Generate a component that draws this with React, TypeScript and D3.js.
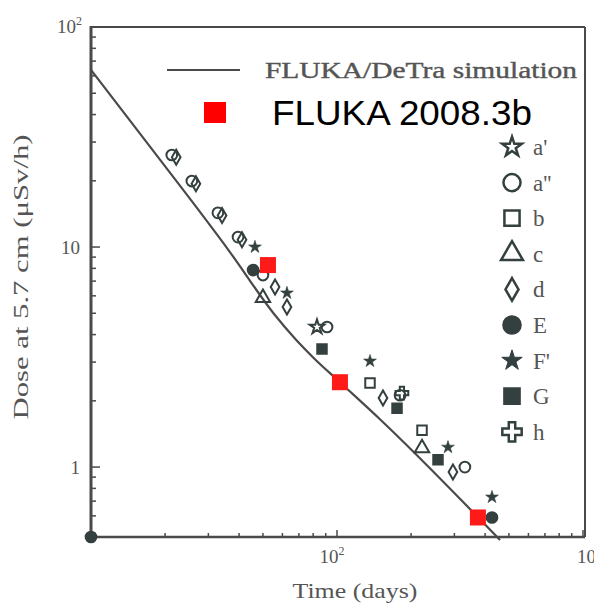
import * as d3 from "d3";

const WIDTH = 594;
const HEIGHT = 604;
const PLOT = { left: 91, right: 583, top: 27, bottom: 537 };
const INK = "#4a4a4a";
const MARK = "#34403f";

const timeDomain: [number, number] = [10, 1000];
const doseDomain: [number, number] = [0.481, 100];

// FLUKA/DeTra simulation curve
const simTime = [10, 17.4, 36.7, 55.9, 68, 80, 102.8, 149.5, 460];
const simDose = [63.8, 28.5, 9.49, 4.91, 3.8, 3.15, 2.43, 1.65, 0.466];

// FLUKA 2008.3b
const flukaTime = [52.4, 102.8, 374];
const flukaDose = [8.28, 2.43, 0.59];

// measurements
const aPrimeTime = [82.9];
const aPrimeDose = [4.33];
const aDoubleTime = [21.3, 25.7, 32.8, 39.6, 50.0, 91.1, 180.4, 331];
const aDoubleDose = [26.2, 19.95, 14.3, 11.1, 7.46, 4.33, 2.12, 1.0];
const bTime = [136.2, 221.6];
const bDose = [2.41, 1.47];
const cTime = [50.0, 221.6];
const cDose = [5.87, 1.22];
const dTime = [22.2, 26.7, 34.1, 41.1, 56.0, 62.6, 153.8, 296];
const dDose = [25.6, 19.4, 13.9, 10.8, 6.58, 5.34, 2.06, 0.95];
const eTime = [10, 45.6, 426.6];
const eDose = [0.481, 7.86, 0.59];
const fPrimeTime = [46.4, 62.6, 136.2, 282.6, 426.6];
const fPrimeDose = [10.0, 6.18, 3.03, 1.23, 0.73];
const gTime = [86.9, 175.4, 257.4];
const gDose = [3.44, 1.85, 1.08];
const hTime = [183.6];
const hDose = [2.17];

const seriesLabels = ["a'", "a''", "b", "c", "d", "E", "F'", "G", "h"];

type Style = { type: d3.SymbolType; filled: boolean; scale: number; legendScale: number };
const styles: Style[] = [
  { type: d3.symbolStar, filled: false, scale: 0.85, legendScale: 0.72 },
  { type: d3.symbolCircle, filled: false, scale: 1, legendScale: 1 },
  { type: d3.symbolSquare, filled: false, scale: 1, legendScale: 1 },
  { type: d3.symbolTriangle, filled: false, scale: 1, legendScale: 0.95 },
  { type: d3.symbolDiamond, filled: false, scale: 0.85, legendScale: 0.8 },
  { type: d3.symbolCircle, filled: true, scale: 1, legendScale: 1 },
  { type: d3.symbolStar, filled: true, scale: 0.75, legendScale: 0.75 },
  { type: d3.symbolSquare, filled: true, scale: 1, legendScale: 1 },
  { type: d3.symbolCross, filled: false, scale: 1, legendScale: 0.95 },
];

const seriesTimes = [aPrimeTime, aDoubleTime, bTime, cTime, dTime, eTime, fPrimeTime, gTime, hTime];
const seriesDoses = [aPrimeDose, aDoubleDose, bDose, cDose, dDose, eDose, fPrimeDose, gDose, hDose];

const SERIF = "'Liberation Serif', 'DejaVu Serif', serif";
const SANS = "'Liberation Sans', Arial, sans-serif";

export default function App() {
  const x = d3.scaleLog().domain(timeDomain).range([PLOT.left, PLOT.right]);
  const y = d3.scaleLog().domain(doseDomain).range([PLOT.bottom, PLOT.top]);

  const simPoints = simTime.map((t, i) => [t, simDose[i]] as [number, number]);
  const line = d3
    .line<[number, number]>()
    .x((d) => x(d[0]))
    .y((d) => y(d[1]))
    .curve(d3.curveMonotoneX);

  const yTicks = y.ticks();
  const xTicks = x.ticks();
  const isDecade = (v: number) => Math.abs(Math.log10(v) - Math.round(Math.log10(v))) < 1e-6;

  const symbolPath = (s: Style, area: number, k: number) =>
    d3.symbol().type(s.type).size(area * k * k)() ?? "";

  // filled stars are drawn small, with a thin outline
  const markStroke = (s: Style) => (s.filled && s.type === d3.symbolStar ? 0.6 : 2);

  const legendTop = 147;
  const legendStep = 35.6;

  return (
    <svg
      width={WIDTH}
      height={HEIGHT}
      style={{ position: "absolute", left: 0, top: 0, background: "white" }}
    >
      {/* frame */}
      <line x1={PLOT.left} x2={PLOT.right + 2} y1={PLOT.top} y2={PLOT.top} stroke={INK} strokeWidth={2} />
      <line x1={PLOT.right + 2} x2={PLOT.right + 2} y1={PLOT.top} y2={PLOT.bottom} stroke={INK} strokeWidth={2} />
      <line x1={PLOT.left} x2={PLOT.left} y1={PLOT.top - 1} y2={PLOT.bottom} stroke={INK} strokeWidth={3} />
      <line x1={PLOT.left} x2={PLOT.right + 2} y1={PLOT.bottom} y2={PLOT.bottom} stroke={INK} strokeWidth={2.5} />

      {/* y ticks */}
      {yTicks.map((v, i) => (
        <line
          key={`yt${i}`}
          x1={PLOT.left}
          x2={PLOT.left + (isDecade(v) ? 9 : 5)}
          y1={y(v)}
          y2={y(v)}
          stroke={INK}
          strokeWidth={1.5}
        />
      ))}
      {/* x ticks */}
      {xTicks.map((v, i) => (
        <line
          key={`xt${i}`}
          x1={x(v)}
          x2={x(v)}
          y1={PLOT.bottom}
          y2={PLOT.bottom - (isDecade(v) ? 7 : 4)}
          stroke={INK}
          strokeWidth={1.5}
        />
      ))}

      {/* tick labels */}
      <g fontFamily={SERIF} fill="#555" fontSize={19}>
        <text x={82} y={y(100) + 6} textAnchor="end">
          10<tspan fontSize={12} dy={-8}>2</tspan>
        </text>
        <text x={80} y={y(10) + 7} textAnchor="end">10</text>
        <text x={80} y={y(1) + 7} textAnchor="end">1</text>
        <text x={x(100) - 5} y={563} textAnchor="middle">
          10<tspan fontSize={12} dy={-8}>2</tspan>
        </text>
        <text x={x(1000) - 6} y={563} textAnchor="start">
          10<tspan fontSize={12} dy={-8}>3</tspan>
        </text>
      </g>

      {/* axis titles */}
      <text
        x={355}
        y={598}
        textAnchor="middle"
        fontFamily={SERIF}
        fontSize={21}
        fill="#555"
        textLength={125}
        lengthAdjust="spacingAndGlyphs"
      >
        Time (days)
      </text>
      <text
        transform="translate(28,277) rotate(-90)"
        textAnchor="middle"
        fontFamily={SERIF}
        fontSize={21}
        fill="#555"
        textLength={285}
        lengthAdjust="spacingAndGlyphs"
      >
        Dose at 5.7 cm (μSv/h)
      </text>

      {/* simulation curve */}
      <path d={line(simPoints) ?? ""} fill="none" stroke={INK} strokeWidth={2.2} />

      {/* measurements */}
      {seriesTimes.map((times, si) =>
        times.map((t, i) => (
          <path
            key={`p${si}-${i}`}
            d={symbolPath(styles[si], 90, styles[si].scale)}
            transform={`translate(${x(t)},${y(seriesDoses[si][i])})`}
            fill={styles[si].filled ? MARK : "none"}
            stroke={MARK}
            strokeWidth={markStroke(styles[si])}
          />
        ))
      )}

      {/* FLUKA 2008.3b points */}
      {flukaTime.map((t, i) => (
        <rect
          key={`f${i}`}
          x={x(t) - 8}
          y={y(flukaDose[i]) - 8}
          width={16}
          height={16}
          fill="#ff1a1a"
        />
      ))}

      {/* legend */}
      <line x1={167} x2={240} y1={70} y2={70} stroke={INK} strokeWidth={2.2} />
      <text
        x={265}
        y={78}
        fontFamily={SERIF}
        fontSize={23}
        fill="#555"
        stroke="#555"
        strokeWidth={0.4}
        textLength={312}
        lengthAdjust="spacingAndGlyphs"
      >
        FLUKA/DeTra simulation
      </text>
      <rect x={204} y={102} width={22} height={21} fill="#ff0000" />
      <text
        x={272}
        y={125}
        fontFamily={SANS}
        fontSize={35}
        fill="#000"
        textLength={260}
        lengthAdjust="spacingAndGlyphs"
      >
        FLUKA 2008.3b
      </text>
      {seriesLabels.map((label, i) => {
        const cy = legendTop + i * legendStep;
        return (
          <g key={`l${i}`}>
            <path
              d={symbolPath(styles[i], 230, styles[i].legendScale)}
              transform={`translate(512,${cy})`}
              fill={styles[i].filled ? MARK : "none"}
              stroke={MARK}
              strokeWidth={styles[i].filled && styles[i].type === d3.symbolStar ? 1 : 2.5}
            />
            <text x={533} y={cy + 8} fontFamily={SERIF} fontSize={23} fill="#555">
              {label}
            </text>
          </g>
        );
      })}
    </svg>
  );
}
